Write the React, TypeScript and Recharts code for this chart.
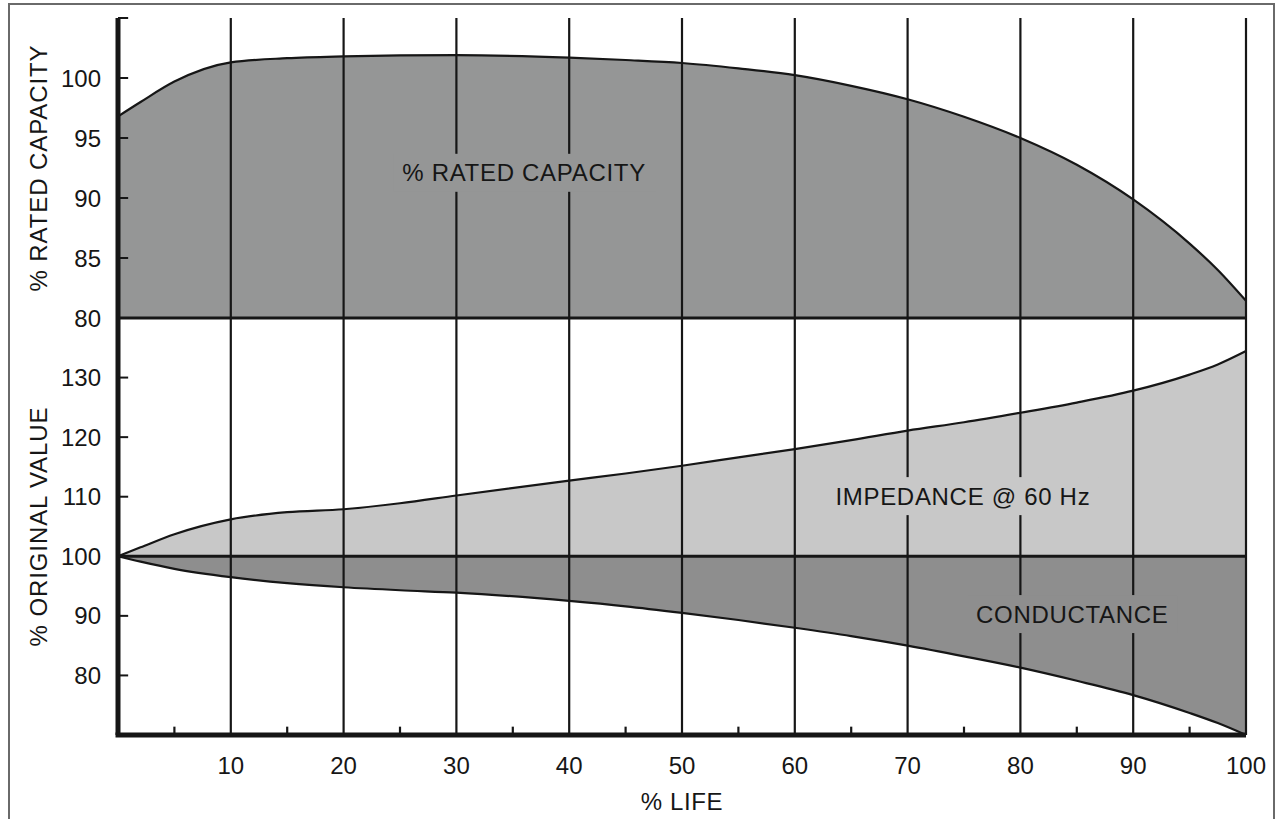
import { AreaChart, Area, XAxis, YAxis, ReferenceLine, ReferenceDot } from "recharts";

// % life at each sample
const life = [0, 2, 5, 10, 15, 20, 25, 30, 40, 45, 50, 55, 60, 65, 70, 75, 80, 85, 90, 95, 97.5, 100];

const ratedCapacity = [
  96.8, 98.0, 99.7, 101.3, 101.65, 101.8, 101.88, 101.9, 101.7, 101.5, 101.25, 100.8, 100.24, 99.35,
  98.23, 96.77, 95.0, 92.77, 89.88, 86.2, 84.0, 81.43,
];
const impedance = [
  100, 101.5, 103.7, 106.2, 107.4, 107.9, 108.9, 110.2, 112.7, 113.9, 115.2, 116.6, 118.0, 119.5,
  121.1, 122.5, 124.1, 125.8, 127.8, 130.5, 132.2, 134.45,
];
const conductance = [
  100, 99.1, 97.9, 96.5, 95.5, 94.8, 94.3, 93.9, 92.5, 91.6, 90.5, 89.3, 88.0, 86.6, 85.0, 83.2,
  81.3, 79.1, 76.7, 73.7, 72.0, 70.0,
];

const lifeTicks = [10, 20, 30, 40, 50, 60, 70, 80, 90, 100];
const lifeMinorTicks = [5, 15, 25, 35, 45, 55, 65, 75, 85, 95];
const capTicks = [80, 85, 90, 95, 100];
const origTicks = [80, 90, 100, 110, 120, 130];

const capLabel = { text: "% RATED CAPACITY", life: 36, value: 92.1 };
const impLabel = { text: "IMPEDANCE @ 60 Hz", life: 74.9, value: 110.1 };
const condLabel = { text: "CONDUCTANCE", life: 84.6, value: 90.3 };

const data = life.map((l, i) => ({
  life: l,
  cap: ratedCapacity[i],
  imp: impedance[i],
  cond: conductance[i],
}));

const INK = "#161616";
const DARK = "#959696";
const LIGHT = "#c8c8c8";
const COND = "#8e8e8e";
const FONT = "'Liberation Sans', Arial, Helvetica, sans-serif";
const W = 1278;
const LEFT = 118;
const RIGHT = 32;

const textBox = (text: string, bg: string, boxW: number) => (props: any) => {
  const { cx, cy } = props;
  return (
    <g>
      <rect x={cx - boxW / 2} y={cy - 19} width={boxW} height={38} fill={bg} />
      <text
        x={cx}
        y={cy}
        textAnchor="middle"
        dominantBaseline="central"
        fontSize={24}
        letterSpacing={0.7}
        fill={INK}
        fontFamily={FONT}
      >
        {text}
      </text>
    </g>
  );
};

const tickStyle = { fill: INK, fontSize: 24, fontFamily: FONT };

const gridLines = () =>
  lifeTicks.map((t) => (
    <ReferenceLine key={"g" + t} x={t} stroke={INK} strokeWidth={2.2} ifOverflow="visible" />
  ));

export default function App() {
  return (
    <div
      style={{
        position: "absolute",
        left: 0,
        top: 0,
        width: W,
        height: 819,
        overflow: "hidden",
        background: "#fff",
        fontFamily: FONT,
      }}
    >
      <div
        style={{
          position: "absolute",
          left: 8,
          top: 3,
          width: W - 8 - 3,
          height: 840,
          border: "2px solid #6a6a6a",
          boxSizing: "border-box",
        }}
      />

      {/* top panel: % rated capacity (extra bottom margin so the "80" label is not clipped) */}
      <div style={{ position: "absolute", left: 0, top: 0 }}>
        <AreaChart
          width={W}
          height={342}
          data={data}
          margin={{ top: 18, right: RIGHT, left: 0, bottom: 24 }}
        >
          <XAxis dataKey="life" type="number" domain={[0, 100]} hide />
          <YAxis
            type="number"
            domain={[80, 105]}
            ticks={capTicks}
            interval={0}
            width={LEFT}
            axisLine={false}
            tickLine={false}
            tickSize={0}
            tickMargin={17}
            tick={tickStyle}
            label={{
              value: "% RATED CAPACITY",
              angle: -90,
              position: "center",
              dx: -21,
              fill: INK,
              fontSize: 24,
              letterSpacing: 0.9,
            }}
          />
          <Area
            type="monotone"
            dataKey="cap"
            baseValue={80}
            fill={DARK}
            fillOpacity={1}
            stroke={INK}
            strokeWidth={2.2}
            isAnimationActive={false}
          />
          {gridLines()}
          <ReferenceLine y={80} stroke={INK} strokeWidth={3} />
          <ReferenceLine x={0} stroke={INK} strokeWidth={5} />
          {[...capTicks, 105].map((t) => (
            <ReferenceLine
              key={"ct" + t}
              segment={[
                { x: 0, y: t },
                { x: 0.9, y: t },
              ]}
              stroke={INK}
              strokeWidth={2}
            />
          ))}
          <ReferenceDot
            x={capLabel.life}
            y={capLabel.value}
            r={0}
            shape={textBox(capLabel.text, DARK, 262)}
          />
        </AreaChart>
      </div>

      {/* bottom panel: % original value */}
      <div style={{ position: "absolute", left: 0, top: 318 }}>
        <AreaChart
          width={W}
          height={501}
          data={data}
          margin={{ top: 0, right: RIGHT, left: 0, bottom: 0 }}
        >
          <XAxis
            dataKey="life"
            type="number"
            domain={[0, 100]}
            ticks={lifeTicks}
            interval={0}
            height={84}
            axisLine={false}
            tickLine={false}
            tickSize={0}
            tickMargin={22}
            tick={tickStyle}
            label={{
              value: "% LIFE",
              position: "insideBottom",
              offset: 9,
              fill: INK,
              fontSize: 24,
              letterSpacing: 0.6,
            }}
          />
          <YAxis
            type="number"
            domain={[70, 140]}
            ticks={origTicks}
            interval={0}
            width={LEFT}
            axisLine={false}
            tickLine={false}
            tickSize={0}
            tickMargin={17}
            tick={tickStyle}
            label={{
              value: "% ORIGINAL VALUE",
              angle: -90,
              position: "center",
              dx: -21,
              fill: INK,
              fontSize: 24,
              letterSpacing: 0.9,
            }}
          />
          <Area
            type="monotone"
            dataKey="imp"
            baseValue={100}
            fill={LIGHT}
            fillOpacity={1}
            stroke={INK}
            strokeWidth={2.2}
            isAnimationActive={false}
          />
          <Area
            type="monotone"
            dataKey="cond"
            baseValue={100}
            fill={COND}
            fillOpacity={1}
            stroke={INK}
            strokeWidth={2.2}
            isAnimationActive={false}
          />
          {gridLines()}
          <ReferenceLine y={100} stroke={INK} strokeWidth={3} />
          <ReferenceLine x={0} stroke={INK} strokeWidth={5} />
          <ReferenceLine
            segment={[
              { x: -0.22, y: 70 },
              { x: 100, y: 70 },
            ]}
            stroke={INK}
            strokeWidth={5}
            ifOverflow="visible"
          />
          {origTicks.map((t) => (
            <ReferenceLine
              key={"ot" + t}
              segment={[
                { x: 0, y: t },
                { x: 0.9, y: t },
              ]}
              stroke={INK}
              strokeWidth={2}
            />
          ))}
          {lifeMinorTicks.map((t) => (
            <ReferenceLine
              key={"lm" + t}
              segment={[
                { x: t, y: 70 },
                { x: t, y: 71.4 },
              ]}
              stroke={INK}
              strokeWidth={2.2}
            />
          ))}
          <ReferenceDot
            x={impLabel.life}
            y={impLabel.value}
            r={0}
            shape={textBox(impLabel.text, LIGHT, 272)}
          />
          <ReferenceDot
            x={condLabel.life}
            y={condLabel.value}
            r={0}
            shape={textBox(condLabel.text, COND, 210)}
          />
        </AreaChart>
      </div>
    </div>
  );
}
